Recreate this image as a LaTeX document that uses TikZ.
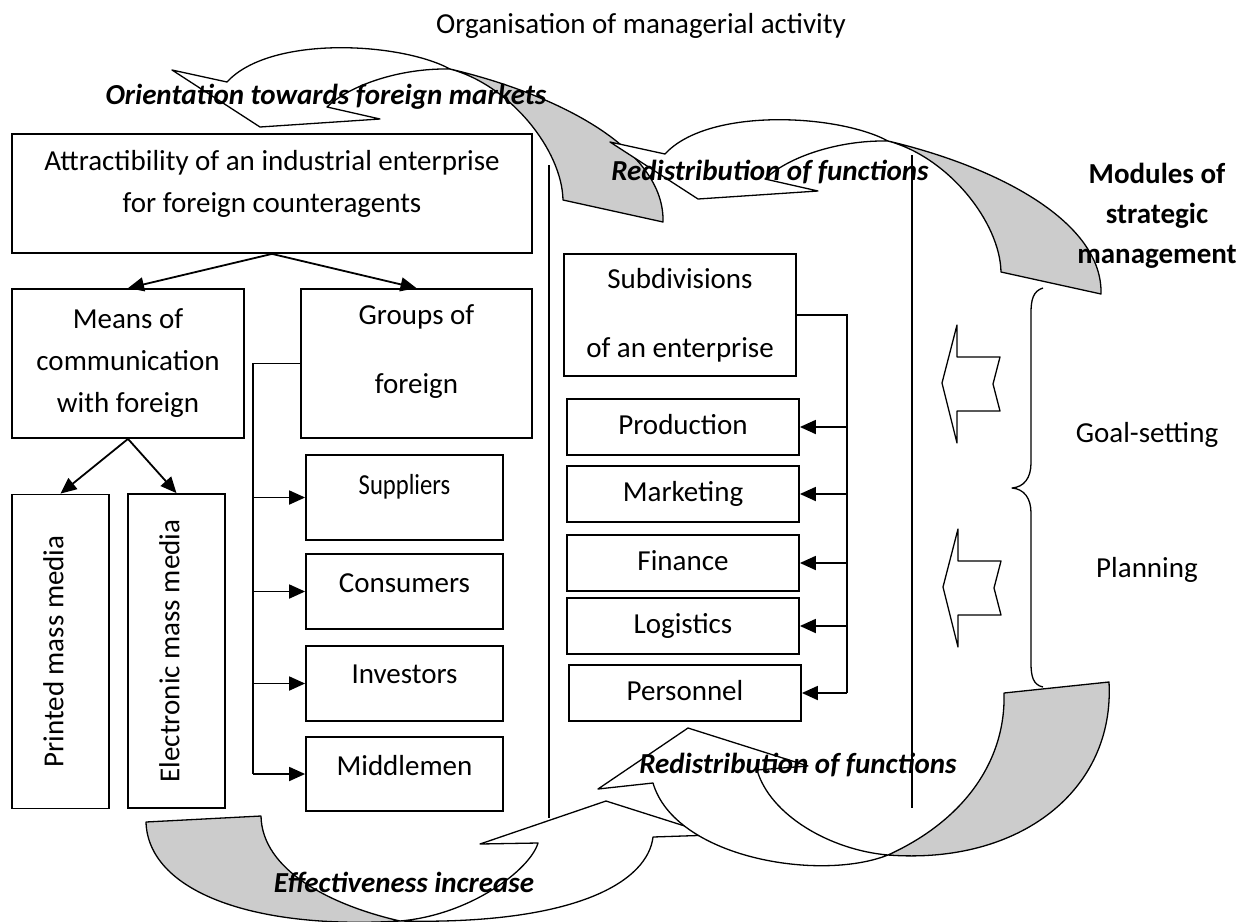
\documentclass[tikz,border=0pt]{standalone}
\usepackage{fontspec}
\setmainfont{Carlito}
\usepackage{graphicx}
\usepackage{tikz}
\usetikzlibrary{positioning,arrows.meta,calc}
\definecolor{msInk}{RGB}{0,0,0}
\definecolor{msBand}{RGB}{204,204,204}
\tikzset{
    base/.style={font=\fontsize{14.5}{21}\selectfont, align=center, inner sep=0pt},
    box/.style={base, rectangle, draw=msInk, line width=0.9pt, fill=white},
    oneline/.style={box, text height=10pt, text depth=3pt},
    unit/.style={oneline, minimum width=116pt, minimum height=28pt},
    group/.style={oneline, minimum width=98.5pt},
    media/.style={box, minimum width=48.5pt, minimum height=157pt},
    tag/.style={base, font=\fontsize{14.5}{21}\selectfont\bfseries\itshape},
    flow/.style={-{Triangle[length=8pt,width=7pt]}, line width=0.9pt, color=msInk},
    bus/.style={line width=0.9pt, color=msInk},
    band/.style={draw=msInk, line width=0.65pt, line join=round},
    divider/.style={draw=msInk, line width=0.65pt}
}
% twisted ribbon arrow over the top, head down at its left end
\newcommand{\topribbon}{%
  \filldraw[band, fill=white] (172,70) -- (260,127) -- (380,119) -- (327,107)
    .. controls (350,85) and (400,68) .. (450,69)
    .. controls (400,42) and (270,35) .. (227,82) -- cycle;
  \filldraw[band, fill=msBand] (450,69) .. controls (560,95) and (665,150) .. (663,222)
    -- (563,200) .. controls (562,150) and (510,85) .. (450,69) -- cycle;
}
% notched block arrow pointing left
\newcommand{\notchedleft}{%
  \filldraw[band, fill=white] (942,383) -- (957,325) -- (957,357) -- (1000,357)
    -- (993,384) -- (1000,411) -- (957,411) -- (957,443) -- cycle;
}
\newcommand{\sidetext}[1]{\rotatebox{90}{\raisebox{3.5pt}[\height][\depth]{#1}}}

\begin{document}
\begin{tikzpicture}[x=0.5pt, y=-0.5pt]
  \useasboundingbox (0,0) rectangle (1249,922);

  % Column dividers
  \draw[divider] (549,165) -- (549,818);
  \draw[divider] (912,155) -- (912,808);

  % Left part
  \node[box, minimum width=260pt, minimum height=59.5pt, text depth=12.5pt] (attract) at (272,193.5)
    {Attractibility of an industrial enterprise\\for foreign counteragents};
  \node[box, minimum width=116pt, minimum height=74.5pt] (means) at (128,363.5)
    {Means of\\communication\\with foreign};
  \node[box, minimum width=115.5pt, minimum height=74.5pt, text depth=14pt] (groups) at (416.5,363.5)
    {Groups of\\[13.5pt]foreign};
  \node[media] (printed) at (60.5,651.5) {\sidetext{Printed mass media}};
  \node[media] (electronic) at (176.5,651) {\sidetext{Electronic mass media}};
  \node[group, minimum height=42.5pt, text depth=13pt] (suppliers) at (404.5,497.5) {\scalebox{0.85}[1]{Suppliers}};
  \node[group, minimum height=37.5pt, text depth=9pt] (consumers) at (404.5,591.5) {Consumers};
  \node[group, minimum height=37.5pt, text depth=10pt] (investors) at (404.5,683.5) {Investors};
  \node[group, minimum height=37pt, text depth=8.5pt] (middlemen) at (404.5,774) {Middlemen};

  % Middle part
  \node[box, minimum width=116pt, minimum height=61pt] (subdiv) at (680,315)
    {Subdivisions\\[13.5pt]of an enterprise};
  \node[unit] (production) at (683,427) {Production};
  \node[unit] (marketing) at (683,494) {Marketing};
  \node[unit] (finance) at (683,563) {Finance};
  \node[unit] (logistics) at (683,626) {Logistics};
  \node[unit] (personnel) at (685,693) {Personnel};

  % Arrows
  \draw[flow] (attract.south) -- (means.north);
  \draw[flow] (attract.south) -- (groups.north);
  \draw[flow] (means.south) -- (printed.north);
  \draw[flow] (means.south) -- (electronic.north);
  \coordinate (gbus) at (253,363.5);
  \draw[bus] (groups.west) -- (gbus) -- (gbus |- middlemen.west);
  \foreach \g in {suppliers,consumers,investors,middlemen}
    \draw[flow] (gbus |- \g.west) -- (\g.west);
  \coordinate (sbus) at (847,315);
  \draw[bus] (subdiv.east) -- (sbus) -- (sbus |- personnel.east);
  \foreach \u in {production,marketing,finance,logistics,personnel}
    \draw[flow] (sbus |- \u.east) -- (\u.east);

  % Ribbons along the top
  \topribbon
  \begin{scope}[shift={(438,72)}]
    \topribbon
  \end{scope}

  % Ribbons along the bottom
  \filldraw[band, fill=white] (480,844) -- (606,801) -- (713,835) -- (653,837)
    .. controls (648,880) and (580,925) .. (400,921)
    .. controls (470,915) and (530,870) .. (538,843) -- cycle;
  \filldraw[band, fill=msBand] (400,921) .. controls (250,930) and (148,890) .. (146,822)
    -- (261,816) .. controls (262,870) and (330,905) .. (400,921) -- cycle;
  \filldraw[band, fill=white] (598,789) -- (688,728) -- (808,766) -- (757,770)
    .. controls (770,815) and (830,850) .. (888,855)
    .. controls (820,882) and (675,858) .. (653,783) -- cycle;
  \filldraw[band, fill=msBand] (888,855) .. controls (1020,865) and (1115,790) .. (1109,682)
    -- (1004,693) .. controls (1006,760) and (965,820) .. (888,855) -- cycle;

  % Strategic management modules
  \notchedleft
  \begin{scope}[shift={(1,204)}]
    \notchedleft
  \end{scope}
  \draw[band] (1043,288) .. controls (1033,291) and (1031,300) .. (1031,313) -- (1031,463)
    .. controls (1031,478) and (1024,487) .. (1012,488)
    .. controls (1024,489) and (1031,498) .. (1031,513) -- (1031,663)
    .. controls (1031,676) and (1033,685) .. (1043,687);

  % Texts
  \node[base] (title) at (641,26) {Organisation of managerial activity};
  \node[tag] (orient) at (326,97) {Orientation towards foreign markets};
  \node[tag] (redistTop) at (770,172) {Redistribution of functions};
  \node[tag] (redistBottom) at (798,765) {Redistribution of functions};
  \node[tag] (effect) at (404,882) {Effectiveness increase};
  \node[base, font=\fontsize{14.5}{20}\selectfont\bfseries] (modules) at (1157,216)
    {Modules of\\strategic\\management};
  \node[base] (goal) at (1147,435) {Goal-setting};
  \node[base] (planning) at (1147,570) {Planning};
\end{tikzpicture}
\end{document}
